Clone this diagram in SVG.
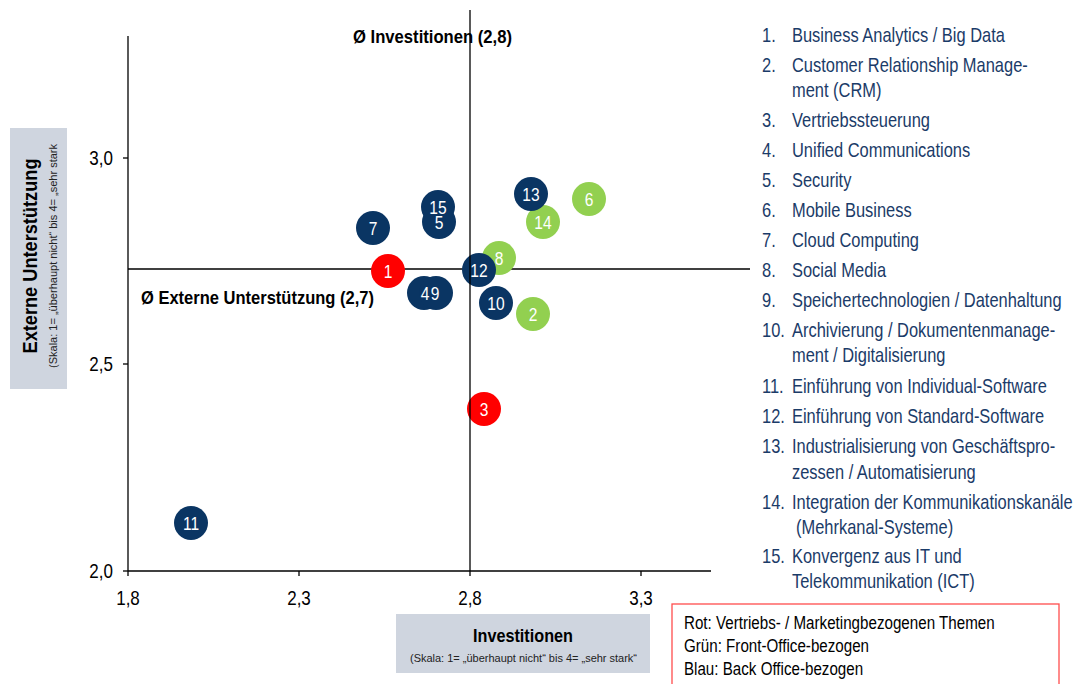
<svg xmlns="http://www.w3.org/2000/svg" width="1075" height="684" viewBox="0 0 1075 684">
<style>
text{font-family:"Liberation Sans",Arial,sans-serif}
.ax{stroke:#000;stroke-width:1.3;fill:none}
.tick{font-size:20px;fill:#000;text-anchor:middle}
.ytick{font-size:20px;fill:#000;text-anchor:end}
.blue{fill:#0a3563}
.red{fill:#ff0000}
.green{fill:#92d050}
.bl{font-size:19px;fill:#fff;text-anchor:middle}
.lg{font-size:20px;fill:#1b3b68}
.bold{font-weight:bold;fill:#000}
.box{fill:#cfd5df}
.note{font-size:18.5px;fill:#000}
</style>
<rect width="1075" height="684" fill="#fff"/>
<g id="axes">
<line class="ax" x1="128" y1="36" x2="128" y2="571"/>
<line class="ax" x1="128" y1="571" x2="711" y2="571"/>
<line class="ax" x1="123" y1="158" x2="128" y2="158"/>
<line class="ax" x1="123" y1="364" x2="128" y2="364"/>
<line class="ax" x1="123" y1="571" x2="128" y2="571"/>
<line class="ax" x1="128" y1="571" x2="128" y2="576"/>
<line class="ax" x1="299" y1="571" x2="299" y2="576"/>
<line class="ax" x1="470" y1="571" x2="470" y2="576"/>
<line class="ax" x1="641" y1="571" x2="641" y2="576"/>
<text class="ytick" transform="translate(113,165) scale(0.85,1)">3,0</text>
<text class="ytick" transform="translate(113,371) scale(0.85,1)">2,5</text>
<text class="ytick" transform="translate(113,578) scale(0.85,1)">2,0</text>
<text class="tick" transform="translate(128,605) scale(0.85,1)">1,8</text>
<text class="tick" transform="translate(299,605) scale(0.85,1)">2,3</text>
<text class="tick" transform="translate(470,605) scale(0.85,1)">2,8</text>
<text class="tick" transform="translate(641,605) scale(0.85,1)">3,3</text>
</g>
<g id="ylabel">
<rect class="box" x="10" y="128" width="57" height="261"/>
<text class="bold" transform="translate(37,256) rotate(-90)" text-anchor="middle" style="font-size:19.5px" textLength="195" lengthAdjust="spacingAndGlyphs">Externe Unterstützung</text>
<text transform="translate(57,256) rotate(-90)" text-anchor="middle" style="font-size:11.5px;fill:#222" textLength="224" lengthAdjust="spacingAndGlyphs">(Skala: 1= „überhaupt nicht“ bis 4= „sehr stark</text>
</g>
<g id="xlabel">
<rect class="box" x="396" y="614" width="254" height="59"/>
<text class="bold" x="523" y="641.5" text-anchor="middle" style="font-size:18.5px" textLength="100" lengthAdjust="spacingAndGlyphs">Investitionen</text>
<text x="523.5" y="661.5" text-anchor="middle" style="font-size:11.5px;fill:#222" textLength="227" lengthAdjust="spacingAndGlyphs">(Skala: 1= „überhaupt nicht“ bis 4= „sehr stark“</text>
</g>
<g id="hline">
<line class="ax" x1="128" y1="269" x2="750" y2="269"/>
</g>
<g id="bubbles">
<g id="b14"><circle class="green" cx="543" cy="222" r="17"/><text class="bl" transform="translate(543,229) scale(0.82,1)">14</text></g>
<g id="b13"><circle class="blue" cx="531" cy="194" r="17"/><text class="bl" transform="translate(531,201) scale(0.82,1)">13</text></g>
<g id="b6"><circle class="green" cx="589" cy="199" r="17"/><text class="bl" transform="translate(589,206) scale(0.82,1)">6</text></g>
<g id="b15"><circle class="blue" cx="438" cy="207" r="17"/></g>
<g id="b5"><circle class="blue" cx="439" cy="222" r="17"/><text class="bl" transform="translate(439,229) scale(0.82,1)">5</text></g>
<text class="bl" transform="translate(438,214) scale(0.82,1)">15</text>
<g id="b7"><circle class="blue" cx="373" cy="228" r="17"/><text class="bl" transform="translate(373,235) scale(0.82,1)">7</text></g>
<g id="b8"><circle class="green" cx="499" cy="258" r="17"/><text class="bl" transform="translate(499,265) scale(0.82,1)">8</text></g>
<g id="b1"><circle class="red" cx="388" cy="271" r="17"/><text class="bl" transform="translate(388,278) scale(0.82,1)">1</text></g>
<g id="b4"><circle class="blue" cx="424" cy="293" r="17"/></g>
<g id="b9"><circle class="blue" cx="436" cy="293" r="17"/></g>
<text class="bl" transform="translate(425,300) scale(0.82,1)">4</text>
<text class="bl" transform="translate(435,300) scale(0.82,1)">9</text>
<g id="b12"><circle class="blue" cx="479" cy="270" r="17"/><text class="bl" transform="translate(479,277) scale(0.82,1)">12</text></g>
<g id="b10"><circle class="blue" cx="496" cy="303" r="17"/><text class="bl" transform="translate(496,310) scale(0.82,1)">10</text></g>
<g id="b2"><circle class="green" cx="533" cy="314" r="17"/><text class="bl" transform="translate(533,321) scale(0.82,1)">2</text></g>
<g id="b3"><circle class="red" cx="484" cy="409" r="17"/><text class="bl" transform="translate(484,416) scale(0.82,1)">3</text></g>
<g id="b11"><circle class="blue" cx="191" cy="523" r="17"/><text class="bl" transform="translate(191,530) scale(0.82,1)">11</text></g>
</g>
<g id="vline">
<line class="ax" x1="470" y1="10" x2="470" y2="571"/>
</g>
<g id="avg-labels">
<text class="bold" x="353" y="43" style="font-size:19px" textLength="159" lengthAdjust="spacingAndGlyphs">Ø Investitionen (2,8)</text>
<text class="bold" x="141" y="304" style="font-size:19px" textLength="233" lengthAdjust="spacingAndGlyphs">Ø Externe Unterstützung (2,7)</text>
</g>
<g id="legend" transform="scale(0.823,1)">
<text class="lg" x="925.9" y="42">1.</text><text class="lg" x="962.3" y="42">Business Analytics / Big Data</text>
<text class="lg" x="925.9" y="72">2.</text><text class="lg" x="962.3" y="72">Customer Relationship Manage-</text>
<text class="lg" x="962.3" y="97">ment (CRM)</text>
<text class="lg" x="925.9" y="127">3.</text><text class="lg" x="962.3" y="127">Vertriebssteuerung</text>
<text class="lg" x="925.9" y="157">4.</text><text class="lg" x="962.3" y="157">Unified Communications</text>
<text class="lg" x="925.9" y="187">5.</text><text class="lg" x="962.3" y="187">Security</text>
<text class="lg" x="925.9" y="217">6.</text><text class="lg" x="962.3" y="217">Mobile Business</text>
<text class="lg" x="925.9" y="247">7.</text><text class="lg" x="962.3" y="247">Cloud Computing</text>
<text class="lg" x="925.9" y="277">8.</text><text class="lg" x="962.3" y="277">Social Media</text>
<text class="lg" x="925.9" y="307">9.</text><text class="lg" x="962.3" y="307">Speichertechnologien / Datenhaltung</text>
<text class="lg" x="925.9" y="337">10.</text><text class="lg" x="962.3" y="337">Archivierung / Dokumentenmanage-</text>
<text class="lg" x="962.3" y="362">ment / Digitalisierung</text>
<text class="lg" x="925.9" y="393">11.</text><text class="lg" x="962.3" y="393">Einführung von Individual-Software</text>
<text class="lg" x="925.9" y="423">12.</text><text class="lg" x="962.3" y="423">Einführung von Standard-Software</text>
<text class="lg" x="925.9" y="453">13.</text><text class="lg" x="962.3" y="453">Industrialisierung von Geschäftspro-</text>
<text class="lg" x="962.3" y="479">zessen / Automatisierung</text>
<text class="lg" x="925.9" y="509">14.</text><text class="lg" x="962.3" y="509">Integration der Kommunikationskanäle</text>
<text class="lg" x="967.2" y="534">(Mehrkanal-Systeme)</text>
<text class="lg" x="925.9" y="563">15.</text><text class="lg" x="962.3" y="563">Konvergenz aus IT und</text>
<text class="lg" x="962.3" y="588">Telekommunikation (ICT)</text>
</g>
<g id="note">
<rect x="672" y="604" width="387" height="90" fill="#fff" stroke="#ff4d4d" stroke-width="1.3"/>
<g transform="scale(0.82,1)">
<text class="note" x="834.1" y="629">Rot: Vertriebs- / Marketingbezogenen Themen</text>
<text class="note" x="834.1" y="652">Grün: Front-Office-bezogen</text>
<text class="note" x="834.1" y="675">Blau: Back Office-bezogen</text>
</g>
</g>
</svg>
